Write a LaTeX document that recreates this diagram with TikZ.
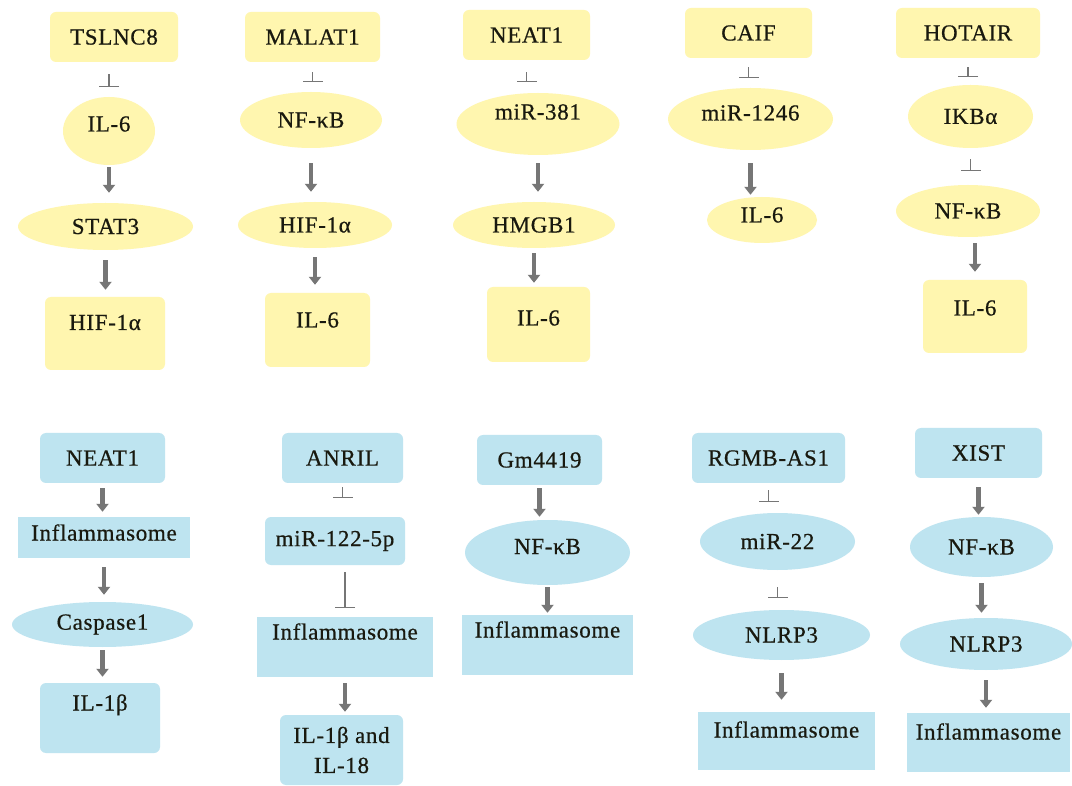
\documentclass[tikz,border=0pt]{standalone}
\usepackage{fontspec}
\setmainfont{Liberation Serif}[LetterSpace=3, FakeBold=0.6]
\usetikzlibrary{shapes.geometric,arrows.meta}
\definecolor{paleyellow}{RGB}{255,246,175}
\definecolor{paleblue}{RGB}{190,228,240}
\definecolor{arrowgray}{RGB}{118,118,118}
\definecolor{textdark}{RGB}{25,25,15}
\begin{document}
\begin{tikzpicture}[x=1pt,y=-1pt,
    every node/.style={font=\fontsize{23}{27}\selectfont, text=textdark, inner sep=0pt},
    ybox/.style={rectangle, fill=paleyellow, rounded corners=6pt},
    yell/.style={ellipse, fill=paleyellow},
    bbox/.style={rectangle, fill=paleblue, rounded corners=6pt},
    bsq/.style={rectangle, fill=paleblue},
    bell/.style={ellipse, fill=paleblue},
    sz/.style 2 args={minimum width=#1pt, minimum height=#2pt},
    lift/.style={text height=15pt, text depth=#1pt},
    act/.style={draw=arrowgray, line width=4.5pt, -{Triangle[width=12pt,length=8pt]}},
    inh/.style={draw=arrowgray, line width=1.2pt, -{Bar[width=20pt]}}]
    \fill[white] (0,0) rectangle (1072,786);
    \useasboundingbox (0,0) rectangle (1072,786);
    % TSLNC8
    \node[ybox, sz={128}{50}] (tslnc) at (114,37) {TSLNC8};
    \node[yell, sz={92}{68}, lift=14] (ilsixA) at (109,131) {IL-6};
    \node[yell, sz={175}{47}] (statthree) at (105.5,226.5) {STAT3};
    \node[ybox, sz={120}{73}, lift=22] (hifA) at (105,333.5) {HIF-1α};
    \draw[inh, shorten <=12pt, shorten >=10pt] (ilsixA.north |- tslnc.south) -- (ilsixA.north);
    \draw[act, shorten <=2pt, shorten >=10pt] (ilsixA.south) -- (ilsixA.south |- statthree.north);
    \draw[act, shorten <=10pt, shorten >=7pt] (statthree.south) -- (statthree.south |- hifA.north);
    % MALAT1
    \node[ybox, sz={135}{50}] (malat) at (312.5,37) {MALAT1};
    \node[yell, sz={142}{56}] (nfkbA) at (311,120) {NF-κB};
    \node[yell, sz={154}{46}] (hifB) at (315,225) {HIF-1α};
    \node[ybox, sz={105}{74}, lift=20] (ilsixB) at (317.5,330) {IL-6};
    \draw[inh, shorten <=10pt, shorten >=10pt] (malat.south) -- (malat.south |- nfkbA.north);
    \draw[act, shorten <=15pt, shorten >=10pt] (nfkbA.south) -- (nfkbA.south |- hifB.north);
    \draw[act, shorten <=9pt, shorten >=8pt] (hifB.south) -- (hifB.south |- ilsixB.north);
    % NEAT1 (top)
    \node[ybox, sz={127}{50}] (neatA) at (526.5,35) {NEAT1};
    \node[yell, sz={163}{62}, lift=24] (mirA) at (538,124) {miR-381};
    \node[yell, sz={162}{46}] (hmgb) at (534,225) {HMGB1};
    \node[ybox, sz={103}{75}, lift=13] (ilsixC) at (538.5,324.5) {IL-6};
    \draw[inh, shorten <=12pt, shorten >=11pt] (neatA.south) -- (neatA.south |- mirA.north);
    \draw[act, shorten <=8pt, shorten >=10pt] (mirA.south) -- (mirA.south |- hmgb.north);
    \draw[act, shorten <=5pt, shorten >=4pt] (hmgb.south) -- (hmgb.south |- ilsixC.north);
    % CAIF
    \node[ybox, sz={127}{50}] (caif) at (748.5,33) {CAIF};
    \node[yell, sz={165}{62}, lift=12] (mirB) at (750.5,119) {miR-1246};
    \node[yell, sz={110}{46}, lift=10] (ilsixD) at (762,220) {IL-6};
    \draw[inh, shorten <=9pt, shorten >=10pt] (caif.south) -- (caif.south |- mirB.north);
    \draw[act, shorten <=13pt, shorten >=2pt] (mirB.south) -- (mirB.south |- ilsixD.north);
    % HOTAIR
    \node[ybox, sz={144}{50}] (hotair) at (968,33) {HOTAIR};
    \node[yell, sz={125}{63}] (ikba) at (970.5,116.5) {IKBα};
    \node[yell, sz={144}{52}] (nfkbB) at (968,211) {NF-κB};
    \node[ybox, sz={104}{73}, lift=17] (ilsixE) at (975,316.5) {IL-6};
    \draw[inh, shorten <=9pt, shorten >=8pt] (hotair.south) -- (hotair.south |- ikba.north);
    \draw[inh, shorten <=11pt, shorten >=14pt] (ikba.south) -- (ikba.south |- nfkbB.north);
    \draw[act, shorten <=6pt, shorten >=8pt] (ilsixE.north |- nfkbB.south) -- (ilsixE.north);
    % NEAT1 (bottom)
    \node[bbox, sz={125}{50}] (neatB) at (102.5,458) {NEAT1};
    \node[bsq, sz={172}{41}, lift=9] (inflA) at (104,537.5) {Inflammasome};
    \node[bell, sz={181}{45}] (casp) at (102.5,624.5) {Caspase1};
    \node[bbox, sz={120}{70}, lift=30] (ilbA) at (100,718) {IL-1β};
    \draw[act, shorten <=5pt, shorten >=5pt] (neatB.south) -- (neatB.south |- inflA.north);
    \draw[act, shorten <=9pt, shorten >=7pt] (inflA.south) -- (inflA.south |- casp.north);
    \draw[act, shorten <=3pt, shorten >=6pt] (casp.south) -- (casp.south |- ilbA.north);
    % ANRIL
    \node[bbox, sz={121}{50}] (anril) at (342.5,458) {ANRIL};
    \node[bbox, sz={140}{48}] (mirC) at (335,541) {miR-122-5p};
    \node[bsq, sz={176}{60}, lift=30] (inflB) at (345,647) {Inflammasome};
    \node[bbox, sz={123}{70}, align=center, font=\fontsize{23}{30}\selectfont] (ilbB) at (341.5,750) {IL-1β and\\IL-18};
    \draw[inh, shorten <=4pt, shorten >=19pt] (anril.south) -- (anril.south |- mirC.north);
    \draw[inh, shorten <=7pt, shorten >=9pt] (inflB.north |- mirC.south) -- (inflB.north);
    \draw[act, shorten <=6pt, shorten >=3pt] (inflB.south) -- (inflB.south |- ilbB.north);
    % Gm4419
    \node[bbox, sz={125}{50}] (gm) at (539.5,460) {Gm4419};
    \node[bell, sz={165}{65}, lift=12] (nfkbC) at (547.5,552.5) {NF-κB};
    \node[bsq, sz={171}{60}, lift=30] (inflC) at (547.5,645) {Inflammasome};
    \draw[act, shorten <=3pt, shorten >=3pt] (gm.south) -- (gm.south |- nfkbC.north);
    \draw[act, shorten <=2pt, shorten >=2pt] (nfkbC.south) -- (nfkbC.south |- inflC.north);
    % RGMB-AS1
    \node[bbox, sz={153}{50}] (rgmb) at (768.5,458) {RGMB-AS1};
    \node[bell, sz={155}{57}] (mirD) at (777.5,541.5) {miR-22};
    \node[bell, sz={177}{50}] (nlrpA) at (781.5,635) {NLRP3};
    \node[bsq, sz={177}{58}, lift=22] (inflD) at (786.5,741) {Inflammasome};
    \draw[inh, shorten <=7pt, shorten >=11pt] (rgmb.south) -- (rgmb.south |- mirD.north);
    \draw[inh, shorten <=17pt, shorten >=12pt] (mirD.south) -- (mirD.south |- nlrpA.north);
    \draw[act, shorten <=13pt, shorten >=12pt] (nlrpA.south) -- (nlrpA.south |- inflD.north);
    % XIST
    \node[bbox, sz={127}{50}] (xist) at (978.5,453) {XIST};
    \node[bell, sz={143}{60}] (nfkbD) at (981.5,547) {NF-κB};
    \node[bell, sz={172}{52}] (nlrpB) at (986,644) {NLRP3};
    \node[bsq, sz={163}{59}, lift=21] (inflE) at (988.5,742.5) {Inflammasome};
    \draw[act, shorten <=9pt, shorten >=2pt] (xist.south) -- (xist.south |- nfkbD.north);
    \draw[act, shorten <=6pt, shorten >=5pt] (nfkbD.south) -- (nfkbD.south |- nlrpB.north);
    \draw[act, shorten <=10pt, shorten >=5pt] (nlrpB.south) -- (nlrpB.south |- inflE.north);
\end{tikzpicture}
\end{document}
